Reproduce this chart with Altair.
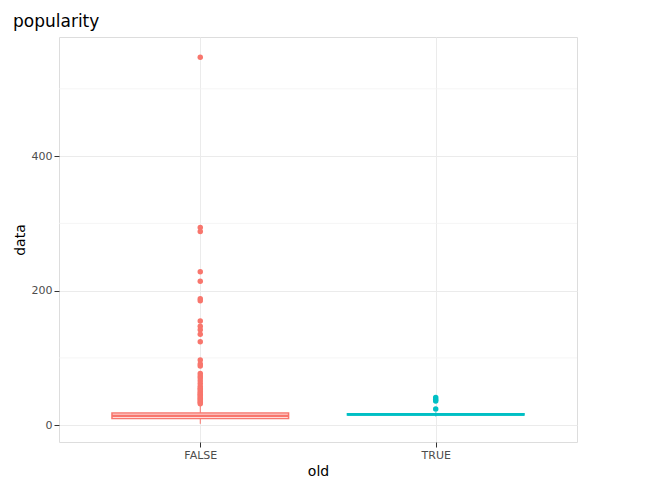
import altair as alt
import pandas as pd

groups = ["FALSE", "TRUE"]
pos = [1, 2]
q1 = [10, 15]
median = [14, 16]
q3 = [18, 17]
lo = [2, 13]
hi = [30, 19]
false_out = [547, 294, 288, 228, 214, 188, 185, 155, 147, 142, 135, 124, 97, 91, 88,
             77, 73, 70, 66, 62, 58, 55, 53, 50, 48, 46, 44, 42, 40, 38, 36, 34, 32]
true_out = [41, 38, 36, 24]

colors = ["#F8766D", "#00BFC4"]
box = pd.DataFrame({"old": groups, "x": pos, "q1": q1, "med": median, "q3": q3, "lo": lo, "hi": hi})
box["x1"] = box["x"] - 0.375
box["x2"] = box["x"] + 0.375
pts = pd.DataFrame({"old": ["FALSE"] * len(false_out) + ["TRUE"] * len(true_out),
                    "x": [1] * len(false_out) + [2] * len(true_out),
                    "data": false_out + true_out})
minor = pd.DataFrame({"y": [100, 300, 500]})

xs = alt.Scale(domain=[0.4, 2.6], nice=False)
ys = alt.Scale(domain=[-25, 577], nice=False)
cs = alt.Scale(domain=groups, range=colors)
leg = alt.Legend(title="old", symbolType="square", symbolFillColor="white",
                 symbolStrokeWidth=1.5, symbolSize=250, titleFontWeight="normal",
                 titleFontSize=13, labelFontSize=11)
nocol = alt.Color("old:N", legend=None, scale=cs)

base = alt.Chart(box)
grid = alt.Chart(minor).mark_rule(color="#f2f2f2", strokeWidth=0.8).encode(y=alt.Y("y:Q", scale=ys))
whisk = base.mark_rule(strokeWidth=1).encode(
    x=alt.X("x:Q", scale=xs), y=alt.Y("lo:Q", scale=ys), y2="hi:Q", color=nocol)
rect = base.mark_bar(fill="white", strokeWidth=1.5).encode(
    x=alt.X("x1:Q", scale=xs), x2="x2:Q", y=alt.Y("q1:Q", scale=ys), y2="q3:Q",
    stroke=alt.Stroke("old:N", scale=cs, legend=leg))
med = base.mark_rule(strokeWidth=2.5).encode(
    x=alt.X("x1:Q", scale=xs), x2="x2:Q", y=alt.Y("med:Q", scale=ys), color=nocol)
dots = alt.Chart(pts).mark_circle(size=30, opacity=1).encode(
    x=alt.X("x:Q", scale=xs,
            axis=alt.Axis(title="old", values=[1, 2], labelExpr="datum.value == 1 ? 'FALSE' : 'TRUE'",
                          gridColor="#ebebeb", tickColor="#333", labelColor="#4d4d4d",
                          titleFontWeight="normal", titleFontSize=14, labelFontSize=11, domain=False)),
    y=alt.Y("data:Q", scale=ys,
            axis=alt.Axis(title="data", values=[0, 200, 400], gridColor="#ebebeb", tickColor="#333",
                          labelColor="#4d4d4d", titleFontWeight="normal", titleFontSize=14,
                          labelFontSize=11, domain=False)),
    color=nocol)

chart = alt.layer(grid, whisk, rect, med, dots).properties(
    width=518, height=405,
    title=alt.Title("popularity", anchor="start", fontSize=17, fontWeight="normal", offset=6),
).configure_view(stroke="#333", strokeWidth=1).configure(font="DejaVu Sans")
chart.save("out.html", embed_options={"renderer": "svg", "actions": False})
